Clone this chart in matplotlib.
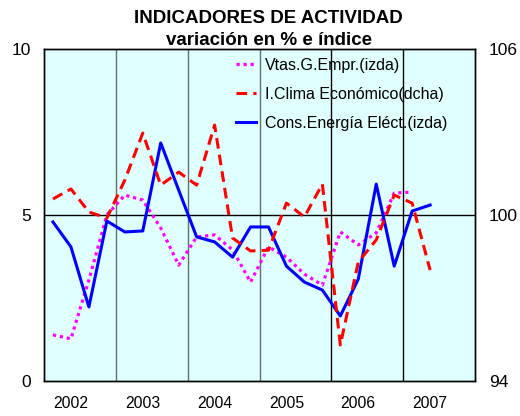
import matplotlib
matplotlib.use("Agg")
import matplotlib.pyplot as plt
import numpy as np

# ===================== datos (trimestrales, 2002T1 - 2007T2) =====================
years = ["2002", "2003", "2004", "2005", "2006", "2007"]

# Ventas grandes empresas (eje izda), hasta 2007T1
vtas = [1.39, 1.27, 3.04, 5.00, 5.60, 5.45, 4.61, 3.49,
        4.34, 4.40, 3.95, 2.98, 4.04, 3.73, 3.22, 2.89,
        4.49, 4.10, 4.46, 5.66, 5.69]

# Indicador de clima económico (eje dcha), hasta 2007T2
clima = [100.58, 100.94, 100.11, 99.89, 101.26, 102.96, 101.08, 101.55,
         101.08, 103.25, 99.17, 98.70, 98.73, 100.43, 99.93, 101.12,
         95.30, 98.30, 99.10, 100.72, 100.43, 98.01]

# Consumo de energía eléctrica (eje izda), hasta 2007T2
energia = [4.79, 4.04, 2.23, 4.82, 4.49, 4.52, 7.17, 5.75,
           4.34, 4.19, 3.73, 4.64, 4.64, 3.46, 2.98, 2.74,
           1.96, 3.07, 5.93, 3.46, 5.12, 5.30]

labels = ["Vtas.G.Empr.(izda)", "I.Clima Económico(dcha)", "Cons.Energía Eléct.(izda)"]

# ===================== gráfico =====================
plt.rcParams["font.family"] = ["Liberation Sans", "DejaVu Sans"]

fig = plt.figure(figsize=(5.2, 4.16), dpi=100)
ax = fig.add_axes([0.0846, 0.0841, 0.8289, 0.7981])
ax.set_facecolor("#E0FFFF")

n = 24
ax.set_xlim(-0.5, n - 0.5)
ax.set_ylim(0, 10)

# líneas de separación de años y referencia en 5
for k, xb in enumerate(np.arange(3.5, n - 1, 4)):
    ax.axvline(xb, color="#607070" if k < 3 else "black", linewidth=1, zorder=1)
ax.axhline(5, color="black", linewidth=1, zorder=1)

l1, = ax.plot(np.arange(len(vtas)), vtas, color="#FF00FF", linewidth=2.3,
              linestyle=(0, (1, 1.2)), zorder=3)
l3, = ax.plot(np.arange(len(energia)), energia, color="#0000FF", linewidth=2.2, zorder=3)

ax2 = ax.twinx()
ax2.set_ylim(94, 106)
l2, = ax2.plot(np.arange(len(clima)), clima, color="#FF0000", linewidth=2.2,
               linestyle=(0, (3.5, 2)), zorder=3)

ax.set_yticks([0, 5, 10])
ax2.set_yticks([94, 100, 106])
ax.set_xticks(np.arange(1, n, 4))
ax.set_xticklabels(years)
ax.tick_params(axis="y", length=0, pad=9, labelsize=12.5)
ax.tick_params(axis="x", length=0, pad=11, labelsize=11.3)
ax2.tick_params(axis="y", length=0, pad=10, labelsize=12.5)

for a in (ax, ax2):
    for s in a.spines.values():
        s.set_color("black")
        s.set_linewidth(1)

fig.text(0.517, 0.955, "INDICADORES DE ACTIVIDAD", ha="center", va="center",
         fontsize=13.5, fontweight="bold")
fig.text(0.517, 0.903, "variación en % e índice", ha="center", va="center",
         fontsize=13.5, fontweight="bold")

ax2.legend([l1, l2, l3], labels, loc="upper left",
           bbox_to_anchor=(0.454, 0.861), bbox_transform=fig.transFigure,
           frameon=False, fontsize=11.5, handlelength=1.25, handletextpad=0.56,
           labelspacing=0.87, borderaxespad=0, borderpad=0)

plt.savefig("out.png", dpi=100)
